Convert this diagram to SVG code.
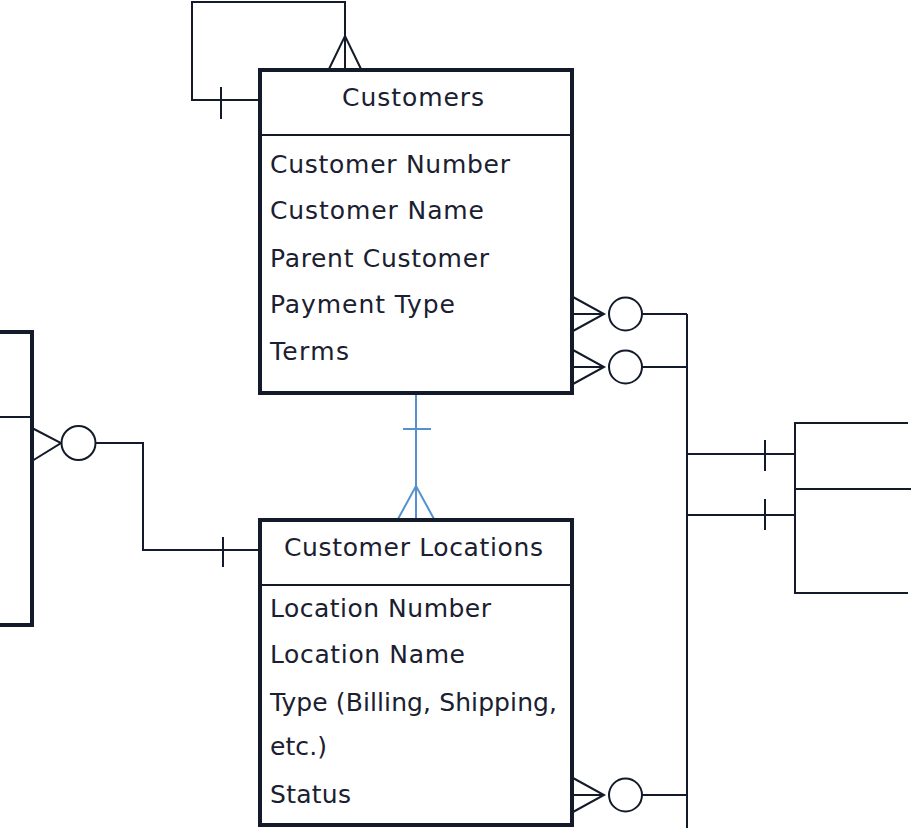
<svg xmlns="http://www.w3.org/2000/svg" width="911" height="828" viewBox="0 0 911 828">
<style>
.box{fill:#fff;stroke:#131a29;stroke-width:4}
.div{stroke:#131a29;stroke-width:2}
.ln{fill:none;stroke:#131a29;stroke-width:2}
.blue{fill:none;stroke:#5591d0;stroke-width:2}
.c{fill:#fff;stroke:#131a29;stroke-width:2}
text{font-family:"DejaVu Sans","Liberation Sans",sans-serif;font-size:25px;fill:#1a2030}
</style>
<rect width="911" height="828" fill="#fff"/>
<g id="connectors">
  <path class="ln" d="M345,69 V2 H192 V100 H259"/>
  <path class="ln" d="M329,69 L345,36 L361,69"/>
  <path class="ln" d="M221,87 V119"/>
  <path class="ln" d="M96,443 H143 V550 H259"/>
  <path class="ln" d="M223,537 V567"/>
  <path class="ln" d="M32,428 L61,443 L32,461"/>
  <circle class="c" cx="78.5" cy="443" r="17"/>
  <path class="ln" d="M573,314 H604 M642,314 H687"/>
  <path class="ln" d="M573,297 L604,314 L573,331"/>
  <circle class="c" cx="625.5" cy="314" r="16.5"/>
  <path class="ln" d="M573,367 H604 M642,367 H687"/>
  <path class="ln" d="M573,350 L604,367 L573,384"/>
  <circle class="c" cx="625.5" cy="367" r="16.5"/>
  <path class="ln" d="M573,795 H604 M642,795 H687"/>
  <path class="ln" d="M573,778 L604,795 L573,812"/>
  <circle class="c" cx="625.5" cy="795" r="16.5"/>
  <path class="ln" d="M687,314 V828"/>
  <path class="ln" d="M687,454 H796 M687,515 H796"/>
  <path class="ln" d="M765,440 V471 M765,499 V530"/>
  <path class="blue" d="M416,393 V519"/>
  <path class="blue" d="M403,429 H431"/>
  <path class="blue" d="M398,519 L416,486 L434,519"/>
</g>
<g id="left-entity">
  <path class="box" d="M-10,332 H32 V625 H-10"/>
  <path class="div" d="M0,417 H32"/>
</g>
<g id="right-entity">
  <path class="ln" d="M908,423 H795 V593 H908"/>
  <path class="ln" d="M795,489 H911"/>
</g>
<g id="customers">
  <rect class="box" x="260" y="70" width="312" height="323"/>
  <line class="div" x1="260" y1="135" x2="572" y2="135"/>
  <text x="342" y="106" textLength="142">Customers</text>
  <text x="270" y="173" textLength="240">Customer Number</text>
  <text x="270" y="219" textLength="214">Customer Name</text>
  <text x="270" y="267" textLength="219">Parent Customer</text>
  <text x="270" y="313" textLength="185">Payment Type</text>
  <text x="270" y="360" textLength="79">Terms</text>
</g>
<g id="customer-locations">
  <rect class="box" x="260" y="520" width="312" height="305"/>
  <line class="div" x1="260" y1="585" x2="572" y2="585"/>
  <text x="284" y="556" textLength="259">Customer Locations</text>
  <text x="270" y="617" textLength="221">Location Number</text>
  <text x="270" y="663" textLength="195">Location Name</text>
  <text x="270" y="711" textLength="287">Type (Billing, Shipping,</text>
  <text x="270" y="755" textLength="57">etc.)</text>
  <text x="270" y="803" textLength="81">Status</text>
</g>
</svg>
